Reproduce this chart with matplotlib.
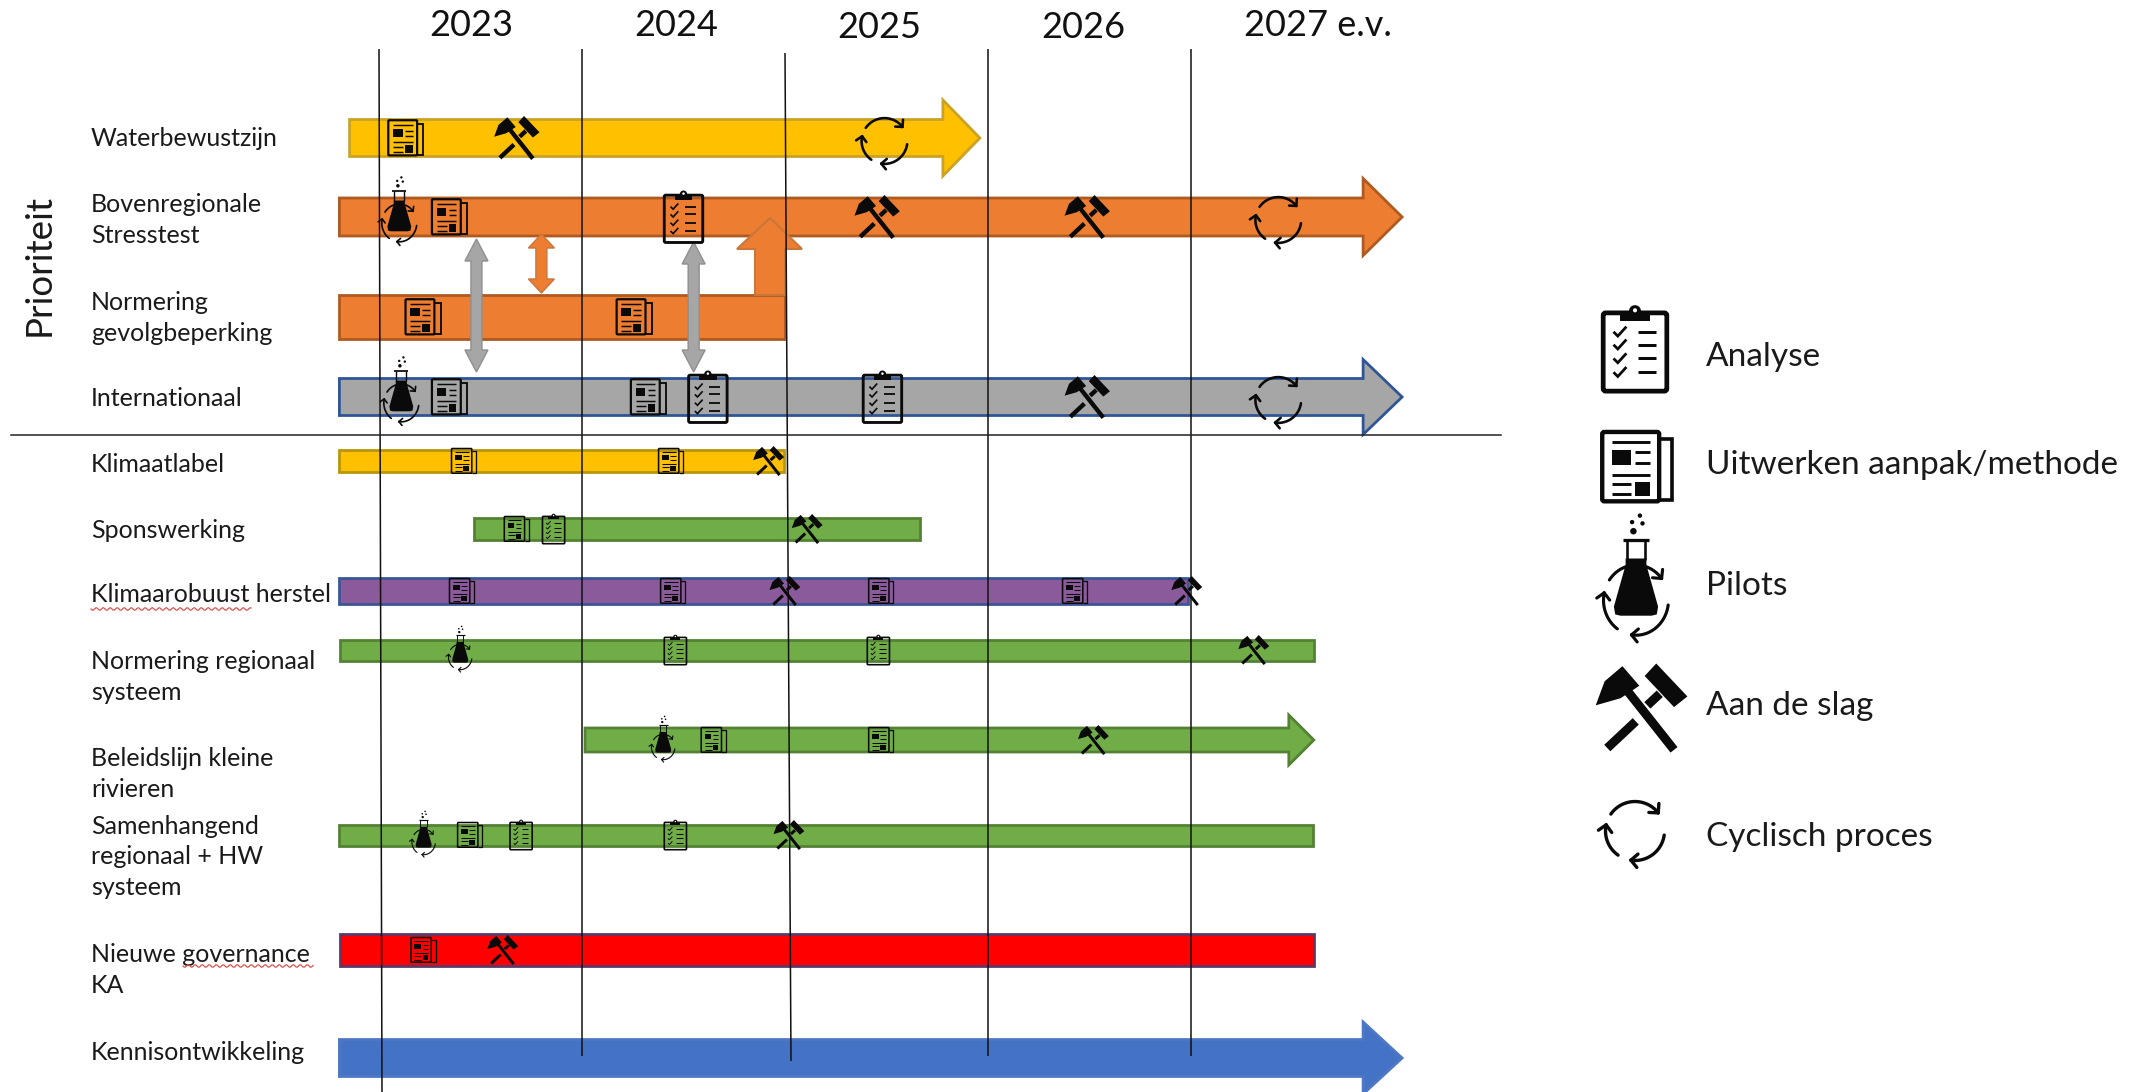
import numpy as np
import matplotlib
matplotlib.use("Agg")
import matplotlib.pyplot as plt
from matplotlib.patches import Polygon, Rectangle, Circle, FancyBboxPatch
from matplotlib.lines import Line2D
from matplotlib.transforms import Affine2D

plt.rcParams['font.family'] = ['Lato', 'DejaVu Sans']

# ---------- data ----------
year_ticks = [2023, 2024, 2025, 2026, 2027]
year_labels = ["2023", "2024", "2025", "2026", "2027 e.v."]

task_labels = ["Waterbewustzijn", "Bovenregionale\nStresstest", "Normering\ngevolgbeperking",
               "Internationaal", "Klimaatlabel", "Sponswerking", "Klimaarobuust herstel",
               "Normering regionaal\nsysteem", "Beleidslijn kleine\nrivieren",
               "Samenhangend\nregionaal + HW\nsysteem", "Nieuwe governance\nKA", "Kennisontwikkeling"]
task_start = [2022.855, 2022.805, 2022.805, 2022.805, 2022.805, 2023.47, 2022.805, 2022.81, 2024.015, 2022.805, 2022.81, 2022.805]
task_end = [2025.96, 2028.04, 2025.00, 2028.04, 2024.995, 2025.665, 2026.985, 2027.605, 2027.605, 2027.60, 2027.605, 2028.04]
task_open_ended = [True, True, False, True, False, False, False, False, True, False, False, True]

marks_water = [("news", 2023.135), ("hammer", 2023.68), ("cycle", 2025.49)]
marks_bov = [("flask", 2023.10), ("news", 2023.35), ("clip", 2024.50), ("hammer", 2025.455), ("hammer", 2026.49), ("cycle", 2027.43)]
marks_gev = [("news", 2023.22), ("news", 2024.26)]
marks_int = [("flask", 2023.11), ("news", 2023.35), ("news", 2024.33), ("clip", 2024.62), ("clip", 2025.48), ("hammer", 2026.49), ("cycle", 2027.43)]
marks_label = [("news", 2023.42), ("news", 2024.44), ("hammer", 2024.92)]
marks_spons = [("news", 2023.68), ("clip", 2023.86), ("hammer", 2025.11)]
marks_herstel = [("news", 2023.41), ("news", 2024.45), ("hammer", 2025.0), ("news", 2025.475), ("news", 2026.43), ("hammer", 2026.98)]
marks_regio = [("flask", 2023.40), ("clip", 2024.46), ("clip", 2025.46), ("hammer", 2027.31)]
marks_beleid = [("flask", 2024.40), ("news", 2024.65), ("news", 2025.475), ("hammer", 2026.52)]
marks_samen = [("flask", 2023.22), ("news", 2023.45), ("clip", 2023.70), ("clip", 2024.46), ("hammer", 2025.02)]
marks_gov = [("news", 2023.22), ("hammer", 2023.61)]
marks_kennis = []
all_marks = [marks_water, marks_bov, marks_gev, marks_int, marks_label, marks_spons, marks_herstel,
             marks_regio, marks_beleid, marks_samen, marks_gov, marks_kennis]

legend_kinds = ["clip", "news", "flask", "hammer", "cycle"]
legend_labels = ["Analyse", "Uitwerken aanpak/methode", "Pilots", "Aan de slag", "Cyclisch proces"]

# ---------- layout and style ----------
W, H = 2146, 1092
PX_YEAR = 203.0
X0 = 379.0
row_y = [138, 217, 317, 397, 461, 529, 591, 650, 740, 835, 950, 1058]
row_h = [37, 38, 44, 37, 22, 22, 26, 21, 24, 21, 32, 37]
head_h = [76, 77, 0, 75, 0, 0, 0, 0, 50, 0, 0, 72]
head_l = [37, 39, 0, 39, 0, 0, 0, 0, 25, 0, 0, 39]
label_y = [139, 220, 318, 399, 465, 531, 595, 677, 774, 857, 970, 1052]
row_fill = ["#FFC000", "#ED7D31", "#ED7D31", "#A6A6A6", "#FFC000", "#70AD47", "#8B5A9B", "#70AD47", "#70AD47", "#70AD47", "#FF0000", "#4472C4"]
row_edge = ["#C9A227", "#AE5A21", "#AE5A21", "#2F5597", "#B8960C", "#548235", "#3B5596", "#548235", "#548235", "#548235", "#5B3A6B", "#4F78C4"]
big_sizes = {"news": 37, "clip": 52, "hammer": 44, "flask": 70, "cycle": 52}
small_sizes = {"news": 26, "clip": 30, "hammer": 30, "flask": 47, "cycle": 30}
flask_shift = {True: -6, False: -1}
cycle_shift = 3
INK = "#0a0a0a"

fig = plt.figure(figsize=(W / 100, H / 100), dpi=100)
ax = fig.add_axes([0, 0, 1, 1])
ax.set_xlim(2023 - X0 / PX_YEAR, 2023 + (W - X0) / PX_YEAR)
ax.set_ylim(H, 0)
ax.axis("off")


def lw_pt(px):
    return px * 0.72


class Icon:
    """Draws in local units (y up), scaled to a height in pixels around a data point."""
    def __init__(self, xdata, ydata, h, zorder=6):
        px, py = ax.transData.transform((xdata, ydata))
        self.h = h
        self.t = Affine2D().scale(h).translate(px, py)
        self.z = zorder

    def line(self, xs, ys, w, cap="butt", join="miter"):
        ax.add_line(Line2D(xs, ys, transform=self.t, color=INK, lw=lw_pt(w * self.h),
                           solid_capstyle=cap, solid_joinstyle=join, zorder=self.z))

    def fill(self, pts):
        ax.add_patch(Polygon(pts, closed=True, transform=self.t, fc=INK, ec="none", zorder=self.z))

    def rect(self, x, y, w, h):
        ax.add_patch(Rectangle((x, y), w, h, transform=self.t, fc=INK, ec="none", zorder=self.z))

    def circle(self, x, y, r, fc=INK):
        ax.add_patch(Circle((x, y), r, transform=self.t, fc=fc, ec="none", zorder=self.z))

    def box(self, x, y, w, h, lw):
        ax.add_patch(FancyBboxPatch((x + .02, y + .02), w - .04, h - .04, boxstyle="round,pad=0.02,rounding_size=0.03",
                                    transform=self.t, fc="none", ec=INK, lw=lw_pt(lw * self.h), zorder=self.z))


def draw_clip(x, y, h):
    i = Icon(x, y, h)
    i.box(-0.37, -0.49, 0.74, 0.91, 0.055)
    i.rect(-0.17, 0.33, 0.34, 0.1)
    i.circle(0, 0.44, 0.07)
    i.circle(0, 0.45, 0.024, fc="white")
    for yy in (0.20, 0.05, -0.11, -0.27):
        i.line([-0.25, -0.20, -0.10], [yy, yy - 0.05, yy + 0.06], 0.032)
        i.line([0.03, 0.24], [yy, yy], 0.035)


def draw_news(x, y, h):
    i = Icon(x, y, h)
    i.box(-0.49, -0.47, 0.78, 0.95, 0.06)
    i.line([0.29, 0.46, 0.46, 0.29], [0.38, 0.38, -0.45, -0.45], 0.05)
    i.line([-0.36, 0.17], [0.34, 0.34], 0.04)
    i.rect(-0.36, 0.03, 0.26, 0.2)
    for yy in (0.20, 0.05):
        i.line([-0.04, 0.17], [yy, yy], 0.04)
    i.line([-0.36, 0.17], [-0.11, -0.11], 0.04)
    for yy in (-0.23, -0.37):
        i.line([-0.36, -0.09], [yy, yy], 0.04)
    i.rect(-0.04, -0.40, 0.21, 0.2)


def arc_arrows(i, cx, cy, rx, ry, w, L):
    for a0, a1 in ((145, 38), (-8, -98), (-125, -192)):
        a = np.radians(np.linspace(a0, a1, 30))
        xs, ys = cx + rx * np.cos(a), cy + ry * np.sin(a)
        i.line(xs, ys, w, cap="round")
        tipx, tipy = xs[-1], ys[-1]
        dirx, diry = xs[-1] - xs[-3], ys[-1] - ys[-3]
        n = np.hypot(dirx, diry)
        dirx, diry = dirx / n, diry / n
        for s in (0.8, -0.8):
            c, sn = np.cos(np.pi + s), np.sin(np.pi + s)
            i.line([tipx, tipx + L * (c * dirx - sn * diry)], [tipy, tipy + L * (sn * dirx + c * diry)], w, cap="round")


def draw_cycle(x, y, h):
    i = Icon(x, y, h)
    arc_arrows(i, 0, 0, 0.44, 0.44, 0.05, 0.14)


def draw_flask(x, y, h):
    i = Icon(x, y, h)
    for bx, by, r in ((0.03, 0.48, 0.017), (-0.03, 0.43, 0.017), (0.05, 0.42, 0.017), (-0.02, 0.36, 0.025)):
        i.circle(bx, by, r)
    i.line([-0.1, 0.1], [0.29, 0.29], 0.025)
    i.line([-0.07, -0.07], [0.29, 0.14], 0.02)
    i.line([0.07, 0.07], [0.29, 0.14], 0.02)
    i.fill([(-0.08, 0.15), (0.08, 0.15), (0.08, 0.1), (0.17, -0.22), (0.16, -0.28), (0.12, -0.29),
            (-0.12, -0.29), (-0.16, -0.28), (-0.17, -0.22), (-0.08, 0.1)])
    arc_arrows(i, 0, -0.17, 0.25, 0.27, 0.024, 0.07)


def draw_hammer(x, y, h):
    i = Icon(x, y, h)
    i.fill([(-0.52, 0.03), (-0.42, 0.30), (-0.22, 0.47), (-0.03, 0.25), (-0.24, 0.11)])
    i.fill([(0.16, 0.5), (0.51, 0.13), (0.36, 0.01), (0.03, 0.36)])
    i.line([-0.17, 0.36], [0.2, -0.47], 0.10)
    i.line([-0.39, -0.07], [-0.45, -0.15], 0.10)
    i.line([0.06, 0.2], [0.03, 0.16], 0.10)


draw_fn = {"clip": draw_clip, "news": draw_news, "flask": draw_flask, "hammer": draw_hammer, "cycle": draw_cycle}


def to_year(px):
    return px / PX_YEAR


def arrow_bar(start, end, yc, h, hh, hl, fc, ec):
    if hl:
        neck = end - to_year(hl)
        pts = [(start, yc - h / 2), (neck, yc - h / 2), (neck, yc - hh / 2), (end, yc),
               (neck, yc + hh / 2), (neck, yc + h / 2), (start, yc + h / 2)]
    else:
        pts = [(start, yc - h / 2), (end, yc - h / 2), (end, yc + h / 2), (start, yc + h / 2)]
    ax.add_patch(Polygon(pts, closed=True, fc=fc, ec=ec, lw=2, zorder=2, joinstyle="miter"))


def double_arrow(xy, top, bottom, fc, ec, shaft=11, hw=23, hl=22):
    dx, hwx = to_year(shaft / 2), to_year(hw / 2)
    pts = [(xy, top), (xy + hwx, top + hl), (xy + dx, top + hl), (xy + dx, bottom - hl), (xy + hwx, bottom - hl),
           (xy, bottom), (xy - hwx, bottom - hl), (xy - dx, bottom - hl), (xy - dx, top + hl), (xy - hwx, top + hl)]
    ax.add_patch(Polygon(pts, closed=True, fc=fc, ec=ec, lw=1, zorder=4))


def squiggle(x0, x1, y):
    xs = np.linspace(x0, x1, int((x1 - x0) / 1.2))
    ys = y + 1.3 * np.sin((xs - x0) * 2 * np.pi / 7)
    ax.plot(2023 + (xs - X0) / PX_YEAR, ys, color="#D9534F", lw=0.9, zorder=3)


# bars
for i in range(len(task_labels)):
    arrow_bar(task_start[i], task_end[i], row_y[i], row_h[i], head_h[i], head_l[i], row_fill[i], row_edge[i])

# branch arrow from Normering gevolgbeperking to Bovenregionale
bx = 2025.0
sx = to_year(30)
ax.add_patch(Polygon([(bx, 295), (bx, 249), (bx + to_year(17), 249), (bx - sx / 2, 218),
                      (bx - sx - to_year(18), 249), (bx - sx, 249), (bx - sx, 295)],
                     closed=True, fc="#ED7D31", ec="#C9763A", lw=1.5, zorder=3))

# double arrows
double_arrow(2023.48, 239, 372, "#A6A6A6", "#8f8f8f")
double_arrow(2024.55, 242, 372, "#A6A6A6", "#8f8f8f")
double_arrow(2023.80, 234, 293, "#ED7D31", "#C9763A", shaft=11, hw=26, hl=14)

# year lines
line_top = [49, 49, 53, 49, 49]
line_bottom = [1092, 1056, 1061, 1056, 1056]
line_drift = [3, 0, 6, 0, 0]
for yr, t, b, d in zip(year_ticks, line_top, line_bottom, line_drift):
    ax.plot([yr, yr + to_year(d)], [t, b], color="#111111", lw=1.1, zorder=5, solid_capstyle="butt")

# divider
ax.plot([2023 + (11 - X0) / PX_YEAR, 2023 + (1501 - X0) / PX_YEAR], [435, 435], color="#222222", lw=1.1, zorder=5)

# marks
for i, marks in enumerate(all_marks):
    big = i < 4
    sizes = big_sizes if big else small_sizes
    for kind, yr in marks:
        yy = row_y[i]
        if kind == "flask":
            yy += flask_shift[big]
        elif kind == "cycle":
            yy += cycle_shift
        draw_fn[kind](yr, yy, sizes[kind])

# texts
year_x = [471, 676, 879, 1083, 1318]
year_y = [26, 26, 28, 28, 26]
for lab, px, py in zip(year_labels, year_x, year_y):
    ax.text(2023 + (px - X0) / PX_YEAR, py, lab, ha="center", va="center", fontsize=26, color="#111111")

for lab, yy in zip(task_labels, label_y):
    ax.text(2023 + (91 - X0) / PX_YEAR, yy, lab, ha="left", va="center", fontsize=18,
            linespacing=1.41, color="#1a1a1a")

ax.text(2023 + (39 - X0) / PX_YEAR, 265, "Prioriteit", rotation=90, ha="center", va="center", fontsize=26.5, color="#1a1a1a")

squiggle(91, 251, 609)
squiggle(183, 313, 966)

# legend
legend_icon_y = [349, 467, 578, 708, 831]
legend_icon_h = [86, 73, 130, 89, 67]
legend_icon_x = [1635, 1638, 1636, 1642, 1635]
legend_text_y = [357, 465, 586, 706, 837]
for k, lab, ix, iy, ih, ty in zip(legend_kinds, legend_labels, legend_icon_x, legend_icon_y, legend_icon_h, legend_text_y):
    draw_fn[k](2023 + (ix - X0) / PX_YEAR, iy, ih)
    ax.text(2023 + (1706 - X0) / PX_YEAR, ty, lab, ha="left", va="center", fontsize=24, color="#1a1a1a")

fig.savefig("out.png", dpi=100, facecolor="white")
